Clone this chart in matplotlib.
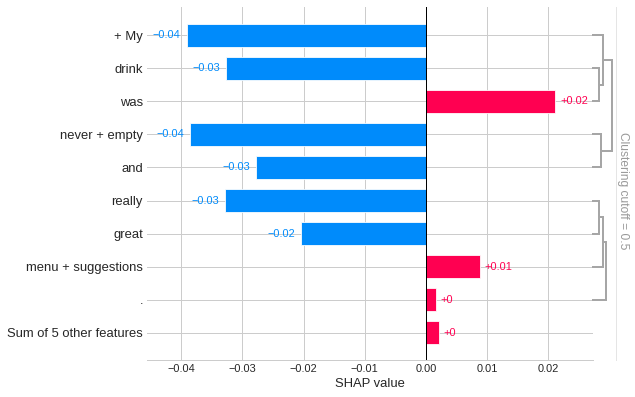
import numpy as np
import matplotlib.pyplot as plt
from matplotlib.transforms import blended_transform_factory

plt.rcParams['font.family'] = ['Liberation Sans', 'DejaVu Sans']

features = [
    "+ My", "drink", "was", "never + empty", "and",
    "really", "great", "menu + suggestions", ".", "Sum of 5 other features"
]
shap_values = [-0.0391, -0.0327, 0.0211, -0.0386, -0.0277,
               -0.0328, -0.0204, 0.0088, 0.0016, 0.0021]
value_labels = ["\u22120.04", "\u22120.03", "+0.02", "\u22120.04", "\u22120.03",
                "\u22120.03", "\u22120.02", "+0.01", "+0", "+0"]
xticks = [-0.04, -0.03, -0.02, -0.01, 0.00, 0.01, 0.02]

# dendrogram merges: (child a, child b, distance); leaves are row indices,
# new nodes get ids 10, 11, ...
merges = [(1, 2, 0.13), (0, 10, 0.22), (3, 4, 0.17), (11, 12, 0.41),
          (5, 6, 0.13), (14, 7, 0.22), (15, 8, 0.29)]
cluster_cutoff = 0.5
n_clustered = 9

blue = "#008bfb"
red = "#ff0051"
text_col = "#262626"
grid_col = "#cccccc"

fig = plt.figure(figsize=(635 / 72, 397 / 72), dpi=72)
ax = fig.add_axes([147 / 635, 1 - 360 / 397, 446 / 635, 353 / 397])

y_pos = np.arange(len(features))
colors = [red if v > 0 else blue for v in shap_values]

for y in y_pos:
    ax.axhline(y, color=grid_col, lw=1, zorder=0)
for xt in xticks:
    if xt != 0:
        ax.axvline(xt, color=grid_col, lw=1, zorder=0)
ax.axvline(0, color="black", lw=1, zorder=3)

ax.barh(y_pos, shap_values, 0.7, color=colors,
        edgecolor=(1, 1, 1, 0.8), linewidth=1, zorder=2)

for y, v, lab, c in zip(y_pos, shap_values, value_labels, colors):
    if v < 0:
        ax.annotate(lab, (v, y), xytext=(-6, 0), textcoords="offset points",
                    ha="right", va="center", color=c, fontsize=11)
    else:
        ax.annotate(lab, (v, y), xytext=(5, 0), textcoords="offset points",
                    ha="left", va="center", color=c, fontsize=11)

ax.set_xlim(-0.04559, 0.02729)
ax.set_ylim(len(features) - 0.18, -0.85)
ax.set_yticks(y_pos)
ax.set_yticklabels(features, fontsize=13, color=text_col)
ax.set_xticks(xticks)
ax.set_xticklabels([f"{t:.2f}".replace("-", "\u2212") for t in xticks],
                   fontsize=11, color=text_col)
ax.tick_params(axis="both", length=0)
ax.tick_params(axis="y", pad=4)
ax.tick_params(axis="x", pad=4)
ax.set_xlabel("SHAP value", fontsize=13, color=text_col, labelpad=4)
for s in ["left", "right", "top"]:
    ax.spines[s].set_visible(False)
ax.spines["bottom"].set_color(grid_col)
ax.spines["bottom"].set_linewidth(1)

# dendrogram to the right of the axes
trans = blended_transform_factory(ax.transAxes, ax.transData)
dscale = 46 / 446
node_y = {i: float(i) for i in range(n_clustered)}
node_d = {i: 0.0 for i in range(n_clustered)}
for k, (a, b, d) in enumerate(merges):
    nid = n_clustered + 1 + k
    xs = [1 + node_d[a] * dscale, 1 + d * dscale, 1 + d * dscale, 1 + node_d[b] * dscale]
    ys = [node_y[a], node_y[a], node_y[b], node_y[b]]
    ax.plot(xs, ys, color="#a6a6a6", lw=2, transform=trans, clip_on=False,
            solid_joinstyle="miter", zorder=1)
    node_y[nid] = (node_y[a] + node_y[b]) / 2
    node_d[nid] = d

xc = 1 + cluster_cutoff * dscale
ax.plot([xc, xc], [0, 1], color=grid_col, lw=1, dashes=(1, 1),
        transform=ax.transAxes, clip_on=False)
ax.text(xc + 7 / 446, 0.48, f"Clustering cutoff = {cluster_cutoff}",
        transform=ax.transAxes, rotation=-90, ha="center", va="center",
        color="#999999", fontsize=12)

fig.savefig("out.png", dpi=72)
